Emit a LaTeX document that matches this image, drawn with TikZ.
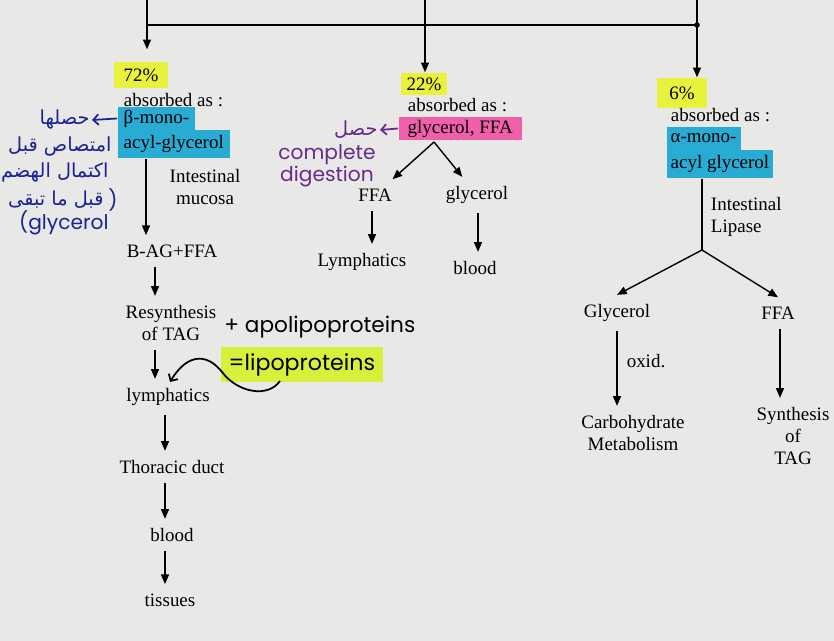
\documentclass[tikz,border=0pt]{standalone}
\usepackage{fontspec}
\setmainfont{Liberation Serif}
\newfontfamily\handfont{Poppins}
\newfontfamily\arabicfont[Script=Arabic]{DejaVu Sans}
\TeXXeTstate=1
\usetikzlibrary{arrows.meta}

\definecolor{paper}{RGB}{232,232,230}
\definecolor{hlyellow}{RGB}{232,242,60}
\definecolor{hlcyan}{RGB}{40,172,212}
\definecolor{hlpink}{RGB}{240,95,170}
\definecolor{hllime}{RGB}{215,240,60}
\definecolor{inkblue}{RGB}{25,35,150}
\definecolor{inkpurple}{RGB}{105,40,140}

\tikzset{
  printed/.style={inner xsep=3pt, inner ysep=5pt},
  marker/.style={fill=#1, inner ysep=0pt, inner xsep=0.12cm},
  hand/.style={font=\handfont\fontsize{11.5}{12.5}\selectfont, inner sep=1pt},
  inkar/.style={font=\arabicfont\fontsize{11}{13}\selectfont, inner sep=1pt},
  inkarrow/.style={-{Straight Barb[length=3pt,width=6pt]}, line width=1pt}
}

\begin{document}
\begin{tikzpicture}[x=0.02cm, y=-0.02cm, font=\fontsize{10.8}{12.5}\selectfont,
  >={Triangle[length=5.5pt,width=4.5pt]}, line width=0.8pt]
  \fill[paper] (0,0) rectangle (834,641);
  \useasboundingbox (0,0) rectangle (834,641);

  % Top branches
  \coordinate (topL) at (147,0);
  \coordinate (topM) at (425,0);
  \coordinate (topR) at (697,0);
  \coordinate (barL) at (147,25);
  \coordinate (barR) at (697,25);
  \draw[line width=1.2pt] (barL) -- (barR);
  \fill (barR) circle (1.6pt);

  % Arrow columns
  \coordinate (xa) at (146,0);
  \coordinate (xb) at (155,0);
  \coordinate (xc) at (165,0);
  \coordinate (xm1) at (372,0);
  \coordinate (xm2) at (478,0);
  \coordinate (xr) at (702,0);
  \coordinate (xg) at (617,0);
  \coordinate (xf) at (780,0);

  % Left branch: 72%
  \node[marker=hlyellow, minimum width=1.1cm, minimum height=0.52cm] (p72) at (141,75) {72\%};
  \draw[->, shorten >=0.24cm] (topL) -- (p72.north -| topL);
  \node[printed, anchor=west] (absL) at (118,100) {absorbed as :};
  \node[marker=hlcyan, anchor=west, minimum height=0.46cm] (bmono) at (117,118.5) {β-mono-};
  \node[marker=hlcyan, anchor=west, minimum height=0.56cm] (acylL) at (117,144) {acyl-glycerol};
  \node[printed, align=center] (mucosa) at (205,187) {Intestinal\\mucosa};
  \node[printed] (bag) at (172,251) {B-AG+FFA};
  \draw[->] (acylL.south -| xa) -- (bag.north -| xa);
  \node[printed, align=center] (resyn) at (171,323) {Resynthesis\\of TAG};
  \draw[->] (bag.south -| xb) -- (resyn.north -| xb);
  \node[printed] (lymphL) at (168,397) {lymphatics};
  \draw[->] (resyn.south -| xb) -- (lymphL.north -| xb);
  \node[printed] (thor) at (172,467) {Thoracic duct};
  \draw[->] (lymphL.south -| xc) -- (thor.north -| xc);
  \node[printed] (bloodL) at (172,535) {blood};
  \draw[->] (thor.south -| xc) -- (bloodL.north -| xc);
  \node[printed] (tiss) at (170,600) {tissues};
  \draw[->] (bloodL.south -| xc) -- (tiss.north -| xc);

  % Middle branch: 22%
  \node[marker=hlyellow, minimum width=0.84cm, minimum height=0.44cm] (p22) at (424,84) {22\%};
  \draw[->] (topM) -- (p22.north -| topM);
  \node[printed, anchor=west] (absM) at (402,105) {absorbed as :};
  \node[marker=hlpink, anchor=west, inner xsep=0.18cm, minimum height=0.46cm] (glyffa) at (398,128.5) {glycerol, FFA};
  \coordinate (splitM) at (434,142);
  \node[printed] (ffaM) at (375,195) {FFA};
  \node[printed] (glyM) at (477,195) {glycerol};
  \draw[->] (splitM) -- (ffaM);
  \draw[->] (splitM) -- (glyM);
  \node[printed] (lymphM) at (362,262) {Lymphatics};
  \node[printed] (bloodM) at (475,268) {blood};
  \draw[->] (ffaM.south -| xm1) -- (lymphM.north -| xm1);
  \draw[->] (glyM.south -| xm2) -- (bloodM.north -| xm2);

  % Right branch: 6%
  \node[marker=hlyellow, minimum width=1.0cm, minimum height=0.6cm] (p6) at (682,93) {6\%};
  \draw[->] (topR) -- (p6.north -| topR);
  \node[printed, anchor=west] (absR) at (665,115) {absorbed as :};
  \node[marker=hlcyan, anchor=west, inner xsep=0.08cm, minimum height=0.46cm] (amono) at (666,138.5) {α-mono-};
  \node[marker=hlcyan, anchor=west, inner xsep=0.08cm, minimum height=0.56cm] (acylR) at (666,164) {acyl glycerol};
  \coordinate (splitR) at (702,250);
  \draw (acylR.south -| xr) -- (splitR);
  \node[printed, anchor=west, align=left] (lipase) at (705,217) {Intestinal\\Lipase};
  \node[printed] (glyR) at (617,313) {Glycerol};
  \node[printed] (ffaR) at (778,313) {FFA};
  \draw[->] (splitR) -- (glyR.north);
  \draw[->] (splitR) -- (ffaR.north);
  \node[printed, align=center] (carb) at (633,433) {Carbohydrate\\Metabolism};
  \draw[->] (glyR.south -| xg) -- (carb.north -| xg);
  \node[printed] (oxid) at (646,361) {oxid.};
  \node[printed, align=center] (synth) at (793,436) {Synthesis\\of\\TAG};
  \draw[->] (ffaR.south -| xf) -- (synth.north -| xf);

  % Handwritten notes, blue
  \node[inkar, text=inkblue, anchor=east] (ar1) at (92,120) {\beginR حصلها\endR};
  \draw[inkarrow, inkblue] (bmono.west) -- (ar1.east);
  \node[inkar, text=inkblue, anchor=east] (ar2) at (114,147) {\beginR امتصاص قبل\endR};
  \node[inkar, text=inkblue, anchor=east] (ar3) at (111,173) {\beginR اكتمال الهضم\endR};
  \node[inkar, text=inkblue, anchor=east] (ar4) at (106,200) {\beginR قبل ما تبقى\endR};
  \node[hand, text=inkblue, anchor=west] (ar4p) at (ar4.east) {)};
  \node[hand, text=inkblue, anchor=east] (ar5) at (111,223) {(glycerol};

  % Handwritten notes, purple
  \node[inkar, text=inkpurple, anchor=east] (pur1) at (380,130) {\beginR حصل\endR};
  \draw[inkarrow, inkpurple] (glyffa.west) -- (pur1.east);
  \node[hand, text=inkpurple, align=center] (pur2) at (327,166) {complete\\digestion};

  % Handwritten notes, black
  \node[hand, anchor=west, font=\handfont\fontsize{12.3}{13}\selectfont] (apo) at (222,327) {+ apolipoproteins};
  \node[hand, marker=hllime, anchor=west, inner xsep=0.16cm, minimum height=0.7cm,
    font=\handfont\fontsize{12.6}{13}\selectfont] (lipo) at (220,364.5) {=lipoproteins};
  \coordinate (lipoTail) at (280,381);
  \coordinate (lipoHead) at (170,382);
  \draw[inkarrow] (lipoTail) .. controls (268,398) and (238,393) .. (222,372)
    .. controls (208,354) and (188,352) .. (lipoHead);
\end{tikzpicture}
\end{document}
